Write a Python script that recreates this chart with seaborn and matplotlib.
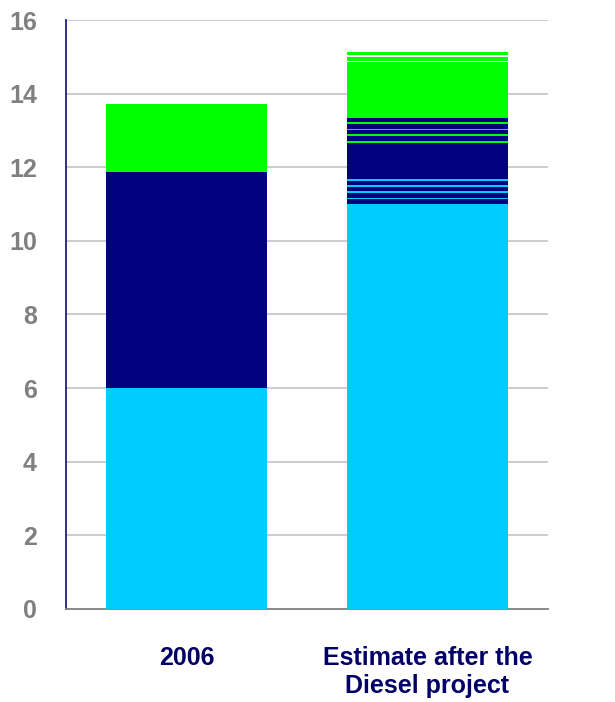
import matplotlib
matplotlib.use("Agg")
import matplotlib.pyplot as plt
import seaborn as sns
import pandas as pd
import numpy as np

LB, NV, GR, WH = "#00CCFF", "#000080", "#00FF00", "#FFFFFF"

categories = ["2006", "Estimate after the\nDiesel project"]

# stacked segments, bottom to top
values_2006 = [6.0, 5.87, 1.85]
colors_2006 = [LB, NV, GR]

values_est = [11.0,
              0.13, 0.04, 0.13, 0.05, 0.11, 0.05, 0.13, 0.05,
              0.96,
              0.06, 0.13, 0.05, 0.11, 0.05, 0.13, 0.04, 0.11,
              1.52,
              0.04, 0.11, 0.04, 0.09]
colors_est = [LB,
              NV, LB, NV, LB, NV, LB, NV, LB,
              NV,
              GR, NV, GR, NV, GR, NV, GR, NV,
              GR,
              WH, GR, WH, GR]

y_ticks = [0, 2, 4, 6, 8, 10, 12, 14, 16]

rows = []
for cat, vals, cols in [(categories[0], values_2006, colors_2006),
                        (categories[1], values_est, colors_est)]:
    tops = np.cumsum(vals)
    for top, c in zip(tops, cols):
        rows.append({"category": cat, "top": top, "color": c})
segs = pd.DataFrame(rows).sort_values("top", ascending=False)

sns.set_style("white")
fig = plt.figure(figsize=(6.15, 7.02), dpi=100)
ax = fig.add_axes([0.1073, 0.1325, 0.7837, 0.839])

for _, r in segs.iterrows():
    sns.barplot(x=[r["category"]], y=[r["top"]], order=categories,
                color=r["color"], saturation=1, width=0.67,
                linewidth=0, ax=ax, zorder=3)

ax.set_xlim(-0.5, 1.5)
ax.set_ylim(0, 16)
ax.set_yticks(y_ticks)
ax.set_yticklabels([str(t) for t in y_ticks])
for y in y_ticks[1:]:
    ax.axhline(y, color="#C8C8C8", linewidth=1.3, zorder=1)

for s in ["top", "right"]:
    ax.spines[s].set_visible(False)
ax.spines["left"].set_color("#1F1F8A")
ax.spines["left"].set_linewidth(1.3)
ax.spines["bottom"].set_color("#808080")
ax.spines["bottom"].set_linewidth(1.3)

ax.tick_params(axis="y", direction="out", length=8, width=1.3, color="#1F1F8A",
               labelcolor="#808080", labelsize=18, pad=13)
for lab in ax.get_yticklabels():
    lab.set_fontweight("bold")
    lab.set_family("Liberation Sans")

ax.set_xticks([0, 1])
ax.set_xticklabels(categories)
ax.set_xticks([-0.5, 0.5, 1.5], minor=True)
ax.tick_params(axis="x", which="major", length=0, pad=27,
               labelcolor="#000066", labelsize=18)
ax.tick_params(axis="x", which="minor", direction="out", length=8,
               width=1.3, color="#808080")
for lab in ax.get_xticklabels():
    lab.set_fontweight("bold")
    lab.set_family("Liberation Sans")
    lab.set_verticalalignment("top")
    lab.set_linespacing(1.2)

ax.set_xlabel("")
ax.set_ylabel("")

fig.savefig("out.png", dpi=100)
